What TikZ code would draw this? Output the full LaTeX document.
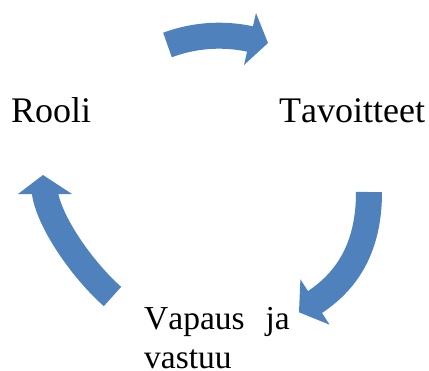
\documentclass[tikz,border=0pt]{standalone}
\usepackage{fontspec}
\setmainfont{Liberation Serif}[Kerning=Off]
\definecolor{smartblue}{HTML}{4F81BD}
\begin{document}
\begin{tikzpicture}[x=1bp,y=-1bp,
  shaft/.style={draw=smartblue,line width=26bp},
  head/.style={fill=smartblue},
  lbl/.style={inner sep=0pt,anchor=base west,text=black},
  bigfont/.style={font=\fontsize{36bp}{43bp}\selectfont},
  smallfont/.style={font=\fontsize{33.5bp}{40bp}\selectfont}]
\useasboundingbox (0,0) rectangle (429,371);
% top arrow (Rooli -> Tavoitteet)
\coordinate (aT) at (167.5,45);
\coordinate (aC1) at (193.8,35.2);
\coordinate (aC2) at (222.8,32.8);
\coordinate (aE) at (252,39.4);
\draw[shaft] (aT) .. controls (aC1) and (aC2) .. (aE);
\coordinate (aF1) at (244,65);
\coordinate (aTip) at (268,43);
\coordinate (aF2) at (256,13);
\fill[head] (aF1) -- (aTip) -- (aF2) -- cycle;
% right arrow (Tavoitteet -> Vapaus ja vastuu)
\coordinate (bT) at (369,192);
\coordinate (bC1) at (369,240);
\coordinate (bC2) at (352.8,277.7);
\coordinate (bE) at (313.3,303.1);
\draw[shaft] (bT) .. controls (bC1) and (bC2) .. (bE);
\coordinate (bF1) at (300.4,279.3);
\coordinate (bTip) at (299,312.3);
\coordinate (bF2) at (329.6,324.7);
\fill[head] (bF1) -- (bTip) -- (bF2) -- cycle;
% left arrow (Vapaus ja vastuu -> Rooli)
\coordinate (cT) at (112.5,296.5);
\coordinate (cC1) at (84,271.4);
\coordinate (cC2) at (49.5,223.7);
\coordinate (cE) at (44.7,192);
\draw[shaft] (cT) .. controls (cC1) and (cC2) .. (cE);
\coordinate (cF1) at (18,194);
\coordinate (cTip) at (43,175);
\coordinate (cF2) at (72,194);
\fill[head] (cF1) -- (cTip) -- (cF2) -- cycle;
% labels
\node[lbl,bigfont] (rooli) at (11,122) {Rooli};
\node[lbl,bigfont] (tavoitteet) at (279,122) {Tavoitteet};
\node[lbl,smallfont] (vapaus) at (144,329) {Vapaus\hspace{12.5bp} ja};
\node[lbl,smallfont] (vastuu) at (144,368) {vastuu};
\end{tikzpicture}
\end{document}
